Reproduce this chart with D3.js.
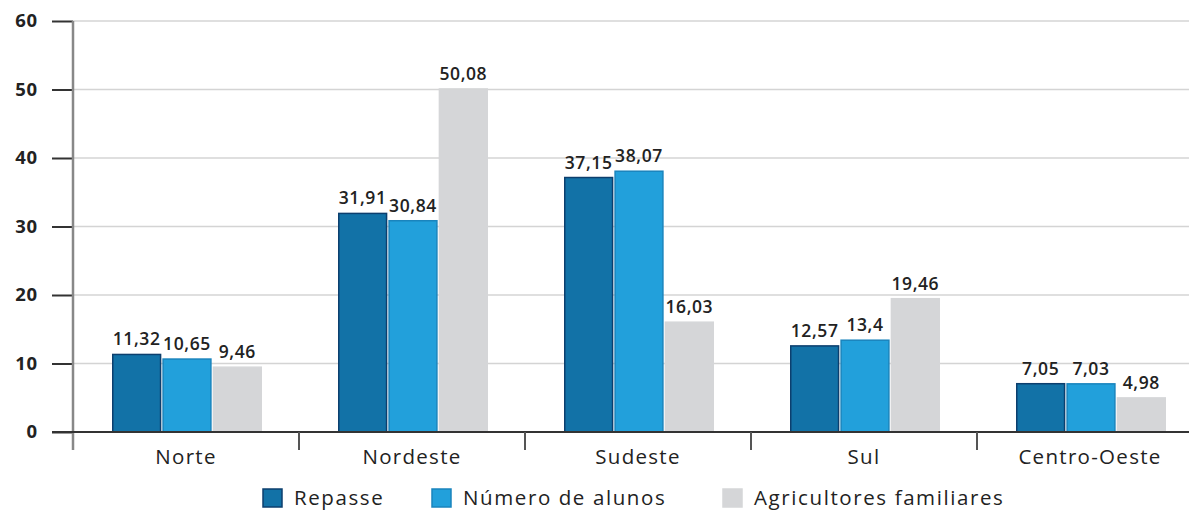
<!DOCTYPE html>
<html><head><meta charset="utf-8">
<script src="https://cdn.jsdelivr.net/npm/d3@7"></script>
<style>body{margin:0;background:#fff}svg{display:block}text{font-family:"Open Sans",sans-serif;fill:#222}</style>
</head><body><svg id="c" width="1189" height="511"></svg>
<script>
const categories = ["Norte","Nordeste","Sudeste","Sul","Centro-Oeste"];
const seriesNames = ["Repasse","Número de alunos","Agricultores familiares"];
const repasse = [11.32,31.91,37.15,12.57,7.05];
const alunos = [10.65,30.84,38.07,13.4,7.03];
const agricultores = [9.46,50.08,16.03,19.46,4.98];
const yTicks = [0,10,20,30,40,50,60];
const colors = ["#1272a7","#22a0db","#d5d6d8"];
const strokes = ["#0c3f6e","#1a84bd","#d5d6d8"];
const series = [repasse, alunos, agricultores];

const svg = d3.select("#c");
const y = d3.scaleLinear().domain([0,60]).range([432,21]);
const x0 = d3.scaleBand().domain(categories).range([73,1203]).paddingInner(0).paddingOuter(0);
const x1 = d3.scaleBand().domain(d3.range(3)).range([39,189]).paddingInner(0.02);

// grid
svg.append("g").selectAll("line").data(yTicks.slice(1)).join("line")
  .attr("x1",73).attr("x2",1189).attr("y1",d=>y(d)).attr("y2",d=>y(d))
  .attr("stroke","#d4d4d4").attr("stroke-width",1.5);

// bars
categories.forEach((c,i)=>{
  const g = svg.append("g").attr("transform",`translate(${x0(c)},0)`);
  series.forEach((s,j)=>{
    g.append("rect").attr("x",x1(j)+0.75).attr("width",x1.bandwidth()-1.5)
      .attr("y",y(s[i])).attr("height",y(0)-y(s[i]))
      .attr("fill",colors[j]).attr("stroke",strokes[j]).attr("stroke-width",1.5);
    g.append("text").attr("x",x1(j)+x1.bandwidth()/2).attr("y",y(s[i])-9)
      .attr("text-anchor","middle").attr("font-size",17.5).attr("font-weight",600)
      .attr("letter-spacing",0.6)
      .text(String(s[i]).replace(".",","));
  });
});

// y axis
const ya = svg.append("g").attr("transform","translate(73,0)")
  .call(d3.axisLeft(y).tickValues(yTicks).tickSize(21).tickPadding(14).tickFormat(d=>d));
ya.select(".domain").remove();
ya.selectAll(".tick line").attr("stroke","#333").attr("stroke-width",2);
ya.selectAll(".tick text").attr("font-size",18.5).attr("font-weight",700).attr("fill","#222")
  .attr("letter-spacing",0.8);
svg.append("line").attr("x1",73).attr("x2",73).attr("y1",y(60)).attr("y2",450)
  .attr("stroke","#888").attr("stroke-width",2.5);

// x axis
const xa = svg.append("g").attr("transform","translate(0,432)")
  .call(d3.axisBottom(x0).tickSize(0).tickPadding(17));
xa.select(".domain").remove();
xa.selectAll(".tick text").attr("font-size",20.5).attr("fill","#222").attr("letter-spacing",1.3);
svg.append("line").attr("x1",52).attr("x2",1189).attr("y1",432).attr("y2",432)
  .attr("stroke","#333").attr("stroke-width",2);
svg.append("g").selectAll("line").data(categories.slice(1)).join("line")
  .attr("x1",d=>x0(d)).attr("x2",d=>x0(d)).attr("y1",432).attr("y2",450)
  .attr("stroke","#555").attr("stroke-width",2);

// legend
const legX = [263,432,723];
const leg = svg.append("g");
seriesNames.forEach((n,j)=>{
  leg.append("rect").attr("x",legX[j]).attr("y",489).attr("width",19).attr("height",18)
    .attr("fill",colors[j]).attr("stroke",strokes[j]).attr("stroke-width",1.5);
  leg.append("text").attr("x",legX[j]+31).attr("y",505).attr("font-size",20.5)
    .attr("letter-spacing",1.6).text(n);
});
</script></body></html>
